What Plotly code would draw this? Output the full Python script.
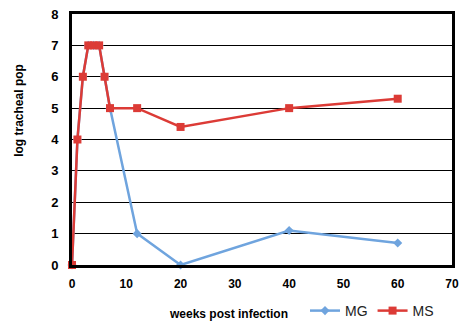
import plotly.graph_objects as go

# weeks post infection and log tracheal population for each strain
weeks_mg = [0, 1, 2, 3, 4, 5, 6, 7, 12, 20, 40, 60]
pop_mg = [0, 4, 6, 7, 7, 7, 6, 5, 1, 0, 1.1, 0.7]

weeks_ms = [0, 1, 2, 3, 4, 5, 6, 7, 12, 20, 40, 60]
pop_ms = [0, 4, 6, 7, 7, 7, 6, 5, 5, 4.4, 5, 5.3]

x_ticks = [0, 10, 20, 30, 40, 50, 60, 70]
y_ticks = [0, 1, 2, 3, 4, 5, 6, 7, 8]

BLUE = "#6fa4de"
RED = "#dc3b36"
FONT = "Liberation Sans, Arial, sans-serif"

fig = go.Figure()
fig.add_trace(go.Scatter(
    x=weeks_mg, y=pop_mg, name="MG", mode="lines+markers",
    line=dict(color=BLUE, width=2.5),
    marker=dict(symbol="diamond", size=7, color=BLUE),
    cliponaxis=False,
))
fig.add_trace(go.Scatter(
    x=weeks_ms, y=pop_ms, name="MS", mode="lines+markers",
    line=dict(color=RED, width=2.5),
    marker=dict(symbol="square", size=8, color=RED),
    cliponaxis=False,
))

fig.update_layout(
    width=470, height=331,
    margin=dict(l=72, r=18, t=14, b=66, autoexpand=False),
    paper_bgcolor="white", plot_bgcolor="white",
    font=dict(family=FONT, size=12, color="black"),
    showlegend=True,
    legend=dict(
        orientation="h", xref="container", yref="container",
        x=305 / 470, y=1 - 311 / 331, xanchor="left", yanchor="middle",
        font=dict(family="Liberation Sans Narrow, Arial Narrow, sans-serif", size=14, color="#222"),
        itemwidth=30, bgcolor="rgba(0,0,0,0)",
    ),
    xaxis=dict(
        range=[0, 70], tickvals=x_ticks, ticktext=[str(v) for v in x_ticks],
        showgrid=False, zeroline=False,
        showline=True, linecolor="black", linewidth=3, mirror=True,
        ticks="", ticklabelstandoff=6,
        tickfont=dict(family=FONT, size=12, color="black", weight="bold"),
    ),
    yaxis=dict(
        range=[0, 8], tickvals=y_ticks, ticktext=[str(v) for v in y_ticks],
        showgrid=True, gridcolor="black", gridwidth=1, zeroline=False,
        showline=True, linecolor="black", linewidth=3, mirror=True,
        ticks="", ticklabelstandoff=8,
        tickfont=dict(family=FONT, size=13, color="black", weight="bold"),
    ),
    annotations=[
        dict(text="<b>weeks post infection</b>", xref="paper", yref="paper",
             x=(228 - 72) / 380, y=-0.195, xanchor="center", yanchor="middle",
             showarrow=False, font=dict(family=FONT, size=12, color="black")),
        dict(text="<b>log tracheal pop</b>", xref="paper", yref="paper",
             x=-0.14, y=(265 - 110) / 251, xanchor="center", yanchor="middle",
             textangle=-90, showarrow=False,
             font=dict(family=FONT, size=12, color="black")),
    ],
)

fig.write_html("out.html")
